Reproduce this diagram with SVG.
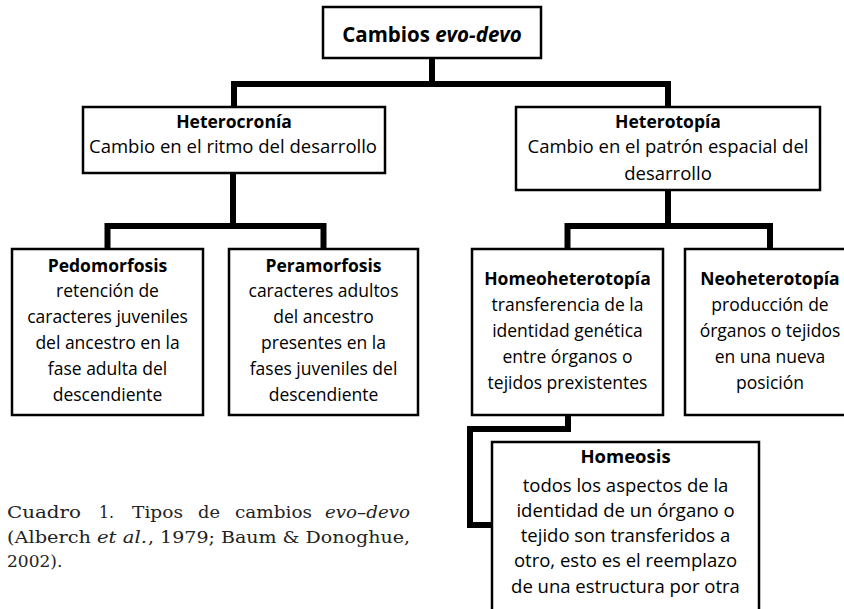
<svg xmlns="http://www.w3.org/2000/svg" width="844" height="609" viewBox="0 0 844 609">
<style>
.box{fill:#fff;stroke:#000;stroke-width:2.5}
.t{font-family:"Open Sans","Noto Sans",sans-serif;font-size:17.5px;fill:#000;text-anchor:middle}
.b{font-weight:bold}
.h{font-size:18.5px}
.con{fill:none;stroke:#000;stroke-width:6;stroke-linejoin:miter;stroke-linecap:butt}
.cap{font-family:"DejaVu Serif","Liberation Serif",serif;font-size:17px;fill:#222}
.i{font-style:italic}
</style>
<rect width="844" height="609" fill="#fff"/>
<g id="connectors">
<path class="con" d="M432,58 V84"/>
<path class="con" d="M234,107 V84 H668 V107"/>
<path class="con" d="M233,173 V226"/>
<path class="con" d="M107.5,249 V226 H323.5 V249"/>
<path class="con" d="M668,190 V226"/>
<path class="con" d="M567.5,249 V226 H770 V249"/>
<path class="con" d="M568,415 V429 H470 V525 H492"/>
</g>
<g id="cambios">
<rect class="box" x="323" y="7" width="218" height="51"/>
<text class="t b" x="432" y="42" style="font-size:20.5px">Cambios <tspan font-style="italic">evo-devo</tspan></text>
</g>
<g id="heterocronia">
<rect class="box" x="83" y="107" width="302" height="66"/>
<text class="t b" x="234" y="128">Heterocronía</text>
<text class="t h" x="233" y="153">Cambio en el ritmo del desarrollo</text>
</g>
<g id="heterotopia">
<rect class="box" x="516" y="107" width="304" height="83"/>
<text class="t b" x="668" y="128">Heterotopía</text>
<text class="t h" x="668" y="153">Cambio en el patrón espacial del</text>
<text class="t h" x="668" y="180">desarrollo</text>
</g>
<g id="pedomorfosis">
<rect class="box" x="12" y="249" width="191" height="166"/>
<text class="t b" x="107.5" y="272">Pedomorfosis</text>
<text class="t" x="107.5" y="297">retención de</text>
<text class="t" x="107.5" y="323">caracteres juveniles</text>
<text class="t" x="107.5" y="349">del ancestro en la</text>
<text class="t" x="107.5" y="375">fase adulta del</text>
<text class="t" x="107.5" y="401">descendiente</text>
</g>
<g id="peramorfosis">
<rect class="box" x="229" y="249" width="189" height="166"/>
<text class="t b" x="323.5" y="272">Peramorfosis</text>
<text class="t" x="323.5" y="297">caracteres adultos</text>
<text class="t" x="323.5" y="323">del ancestro</text>
<text class="t" x="323.5" y="349">presentes en la</text>
<text class="t" x="323.5" y="375">fases juveniles del</text>
<text class="t" x="323.5" y="401">descendiente</text>
</g>
<g id="homeoheterotopia">
<rect class="box" x="472" y="249" width="191" height="166"/>
<text class="t b" x="567.5" y="285">Homeoheterotopía</text>
<text class="t" x="567.5" y="311">transferencia de la</text>
<text class="t" x="567.5" y="337">identidad genética</text>
<text class="t" x="567.5" y="363">entre órganos o</text>
<text class="t" x="567.5" y="389">tejidos prexistentes</text>
</g>
<g id="neoheterotopia">
<rect class="box" x="685" y="249" width="172" height="166"/>
<text class="t b" x="770" y="285">Neoheterotopía</text>
<text class="t" x="770" y="311">producción de</text>
<text class="t" x="770" y="337">órganos o tejidos</text>
<text class="t" x="770" y="363">en una nueva</text>
<text class="t" x="770" y="389">posición</text>
</g>
<g id="homeosis">
<rect class="box" x="492" y="442" width="267" height="190"/>
<text class="t b h" x="625.5" y="463">Homeosis</text>
<text class="t h" x="625.5" y="492">todos los aspectos de la</text>
<text class="t h" x="625.5" y="517">identidad de un órgano o</text>
<text class="t h" x="625.5" y="542">tejido son transferidos a</text>
<text class="t h" x="625.5" y="567">otro, esto es el reemplazo</text>
<text class="t h" x="625.5" y="593">de una estructura por otra</text>
</g>
<g id="caption">
<text class="cap" x="7" y="518" textLength="74" lengthAdjust="spacingAndGlyphs">Cuadro</text>
<text class="cap" x="99" y="518" textLength="15" lengthAdjust="spacingAndGlyphs">1.</text>
<text class="cap" x="132" y="518" textLength="51" lengthAdjust="spacingAndGlyphs">Tipos</text>
<text class="cap" x="198" y="518" textLength="22" lengthAdjust="spacingAndGlyphs">de</text>
<text class="cap" x="235" y="518" textLength="77" lengthAdjust="spacingAndGlyphs">cambios</text>
<text class="cap i" x="325" y="518" textLength="85" lengthAdjust="spacingAndGlyphs">evo–devo</text>
<text class="cap" x="7" y="543" textLength="84" lengthAdjust="spacingAndGlyphs">(Alberch</text>
<text class="cap i" x="97" y="543" textLength="50" lengthAdjust="spacingAndGlyphs">et al.</text>
<text class="cap" x="148" y="543" textLength="262" lengthAdjust="spacingAndGlyphs">, 1979; Baum &amp; Donoghue,</text>
<text class="cap" x="7" y="567">2002).</text>
</g>
</svg>
